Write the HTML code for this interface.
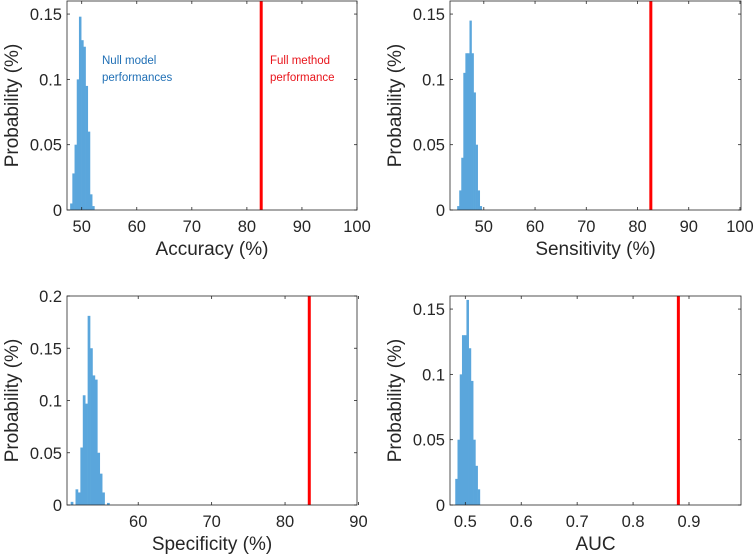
<!DOCTYPE html>
<html><head><meta charset="utf-8"><style>
body{margin:0;background:#fff}
svg{display:block}
text{font-family:"Liberation Sans",Arial,sans-serif;fill:#262626}
</style></head><body>
<svg id="fig" width="756" height="560" viewBox="0 0 756 560"></svg>
<script>
// Panel A: Accuracy
const accBinStart = 47.9, accBinWidth = 0.4;
const accProb = [0.005,0.028,0.05,0.1,0.148,0.13,0.125,0.095,0.06,0.012,0.003];
const accFull = 82.6;
const accTicks = [50,60,70,80,90,100];
// Panel B: Sensitivity
const senBinStart = 44.8, senBinWidth = 0.4;
const senProb = [0.003,0.015,0.04,0.105,0.12,0.12,0.145,0.12,0.09,0.05,0.015,0.003];
const senFull = 82.6;
const senTicks = [50,60,70,80,90,100];
// Panel C: Specificity
const speBinStart = 50.8, speBinWidth = 0.33;
const speProb = [0.003,0,0.015,0.012,0.055,0.105,0.097,0.181,0.15,0.124,0.12,0.05,0.03,0.012,0,0.002];
const speFull = 83.3;
const speTicks = [60,70,80,90];
// Panel D: AUC
const aucBinStart = 0.482, aucBinWidth = 0.004;
const aucProb = [0.02,0.05,0.1,0.13,0.13,0.157,0.12,0.095,0.05,0.03,0.012];
const aucFull = 0.881;
const aucTicks = [0.5,0.6,0.7,0.8,0.9];
const yTicksA = [0,0.05,0.1,0.15];
const yTicksC = [0,0.05,0.1,0.15,0.2];

const NS='http://www.w3.org/2000/svg';
const svg=document.getElementById('fig');
function mk(tag,attrs,parent){const e=document.createElementNS(NS,tag);for(const k in attrs)e.setAttribute(k,attrs[k]);(parent||svg).appendChild(e);return e;}

function panel(name,box,xd,yd,binStart,binW,probs,full,xt,yt,xlabel){
  const g=mk('g',{});
  
  
  const X=v=>box.l+(v-xd[0])/(xd[1]-xd[0])*(box.r-box.l);
  const Y=v=>box.b-(v-yd[0])/(yd[1]-yd[0])*(box.b-box.t);
  probs.forEach((p,i)=>{
    if(p<=0)return;
    const x0=X(binStart+i*binW),x1=X(binStart+(i+1)*binW);
    const r=mk('rect',{x:x0,y:Y(p),width:x1-x0+0.3,height:Y(0)-Y(p),fill:'#5aa6dc'},g);
    
    
  });
  const ln=mk('line',{x1:X(full),x2:X(full),y1:box.t,y2:box.b,stroke:'#ff0000','stroke-width':3},g);
  
  
  const fr=mk('rect',{x:box.l,y:box.t,width:box.r-box.l,height:box.b-box.t,fill:'none',stroke:'#262626','stroke-width':0.8},g);
  
  
  xt.forEach(v=>{
    const x=X(v);
    mk('line',{x1:x,x2:x,y1:box.b,y2:box.b-3,stroke:'#262626','stroke-width':0.8},g);
    mk('line',{x1:x,x2:x,y1:box.t,y2:box.t+3,stroke:'#262626','stroke-width':0.8},g);
    const t=mk('text',{x:x,y:box.b+22,'text-anchor':'middle','font-size':16.5},g);
    t.textContent=String(v);
    
    
  });
  yt.forEach(v=>{
    const y=Y(v);
    mk('line',{x1:box.l,x2:box.l+3,y1:y,y2:y,stroke:'#262626','stroke-width':0.8},g);
    mk('line',{x1:box.r,x2:box.r-3,y1:y,y2:y,stroke:'#262626','stroke-width':0.8},g);
    const t=mk('text',{x:box.l-5,y:y+6,'text-anchor':'end','font-size':16.5},g);
    t.textContent=String(v);
    
    
  });
  const xl=mk('text',{x:(box.l+box.r)/2,y:box.b+45,'text-anchor':'middle','font-size':19},g);
  xl.textContent=xlabel;
  
  
  const cy=(box.t+box.b)/2, cx=box.l-49;
  const yl=mk('text',{x:cx,y:cy,'text-anchor':'middle','font-size':19,transform:`rotate(-90 ${cx} ${cy})`},g);
  yl.textContent='Probability (%)';
  
  
}
panel('accuracy',{l:67,r:357,t:1,b:210},[47.33,100],[0,0.16],accBinStart,accBinWidth,accProb,accFull,accTicks,yTicksA,'Accuracy (%)');
panel('sensitivity',{l:450,r:741,t:1,b:210},[43.4,100.2],[0,0.16],senBinStart,senBinWidth,senProb,senFull,senTicks,yTicksA,'Sensitivity (%)');
panel('specificity',{l:67,r:357,t:296,b:505},[50.3,89.8],[0,0.2],speBinStart,speBinWidth,speProb,speFull,speTicks,yTicksC,'Specificity (%)');
panel('auc',{l:450,r:741,t:296,b:505},[0.4726,0.993],[0,0.16],aucBinStart,aucBinWidth,aucProb,aucFull,aucTicks,yTicksA,'AUC');

const notes=[['null-model-annotation',102,64,'Null model','#1f6fb5'],['null-model-annotation-2',102,81,'performances','#1f6fb5'],['full-method-annotation',270,64,'Full method','#e8141b'],['full-method-annotation-2',270,81,'performance','#e8141b']];
notes.forEach(n=>{
  const t=mk('text',{x:n[1],y:n[2],'font-size':11.5});
  t.style.fill=n[4];
  t.textContent=n[3];
  
  
});
</script>
</body></html>
